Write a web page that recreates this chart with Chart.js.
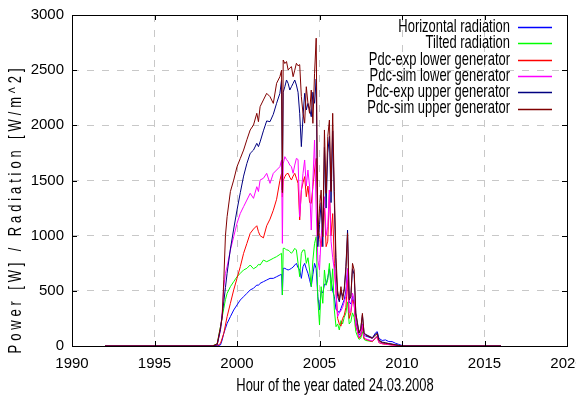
<!DOCTYPE html>
<html><head><meta charset="utf-8">
<script src="https://cdn.jsdelivr.net/npm/chart.js@4/dist/chart.umd.min.js"></script>
<style>html,body{margin:0;padding:0;background:#fff;overflow:hidden;}</style>
</head><body>
<canvas id="c" width="576" height="401" style="width:576px;height:401px;display:block"></canvas>
<script>
const hours = [1992, 1998.5, 1998.8, 1999.0, 1999.1, 1999.2, 1999.3, 1999.4, 1999.6, 1999.8,
 2000.0, 2000.2, 2000.4, 2000.6, 2000.8, 2001.0, 2001.2, 2001.3, 2001.4, 2001.6,
 2001.8, 2002.0, 2002.2, 2002.4, 2002.6, 2002.7, 2002.75, 2002.8, 2002.9, 2003.0,
 2003.1, 2003.2, 2003.3, 2003.4, 2003.5, 2003.6, 2003.7, 2003.8, 2003.9, 2004.0,
 2004.1, 2004.2, 2004.3, 2004.4, 2004.5, 2004.6, 2004.7, 2004.8, 2004.9, 2005.0,
 2005.1, 2005.2, 2005.3, 2005.4, 2005.5, 2005.6, 2005.7, 2005.8, 2005.9, 2006.0,
 2006.1, 2006.2, 2006.3, 2006.4, 2006.5, 2006.6, 2006.7, 2006.8, 2006.9, 2007.0,
 2007.1, 2007.2, 2007.3, 2007.4, 2007.5, 2007.6, 2007.7, 2007.8, 2008.0, 2008.2,
 2008.4, 2008.5, 2008.6, 2008.8, 2009.0, 2009.2, 2009.4, 2009.6, 2009.8, 2010.0,
 2010.3, 2016];

const horizontalRadiation = [0, 0, 0, 10, 54, 115, 160, 205, 266, 326,
 372, 417, 447, 477, 508, 523, 553, 550, 568, 583,
 598, 613, 613, 628, 643, 650, 462, 704, 704, 695,
 689, 695, 704, 715, 734, 749, 710, 689, 613, 719,
 749, 700, 659, 600, 538, 650, 749, 700, 447, 326,
 500, 480, 560, 560, 620, 700, 600, 500, 447, 330,
 320, 300, 340, 380, 420, 500, 700, 400, 380, 450,
 380, 220, 150, 100, 110, 180, 100, 90, 80, 70,
 120, 130, 70, 50, 55, 40, 40, 25, 15, 5,
 0, 0];

const tiltedRadiation = [0, 0, 20, 175, 260, 341, 420, 477, 538, 583,
 628, 659, 689, 704, 734, 700, 719, 740, 734, 779,
 764, 779, 795, 810, 830, 840, 462, 885, 885, 870,
 870, 855, 840, 860, 885, 870, 749, 628, 840, 870,
 870, 749, 800, 689, 538, 780, 930, 991, 417, 190,
 538, 387, 689, 550, 600, 749, 500, 700, 326, 175,
 200, 145, 230, 200, 260, 300, 400, 200, 220, 300,
 260, 130, 90, 60, 70, 130, 60, 50, 45, 40,
 80, 95, 40, 28, 22, 18, 14, 10, 6, 2,
 0, 0];

const pdcExpLower = [0, 0, 0, 24, 70, 115, 190, 266, 387, 508,
 613, 719, 840, 930, 1021, 1060, 1090, 1036, 1000, 980,
 1090, 1150, 1230, 1330, 1500, 1565, 1350, 1500, 1535, 1560,
 1565, 1530, 1504, 1540, 1565, 1520, 1474, 1142, 1414, 1480,
 1535, 1353, 1450, 1300, 1293, 1444, 1595, 1700, 1081, 1000,
 900, 1100, 1250, 900, 950, 1414, 1000, 1200, 750, 500,
 250, 200, 180, 250, 280, 350, 600, 250, 300, 420,
 380, 180, 130, 70, 90, 180, 70, 60, 50, 40,
 70, 80, 30, 20, 15, 12, 8, 5, 3, 0,
 0, 0];

const pdcSimLower = [0, 0, 10, 150, 296, 538, 659, 719, 870, 991,
 1112, 1202, 1263, 1323, 1384, 1338, 1444, 1400, 1504, 1520,
 1565, 1474, 1565, 1595, 1625, 1686, 930, 1650, 1716, 1690,
 1670, 1640, 1625, 1565, 1640, 1700, 1690, 1172, 1400, 1565,
 1686, 1450, 1595, 1444, 1051, 1500, 1867, 1233, 779, 689,
 1000, 1150, 1353, 1000, 1081, 1414, 950, 800, 689, 480,
 266, 300, 320, 350, 400, 450, 700, 300, 320, 480,
 420, 200, 140, 80, 100, 200, 80, 65, 55, 45,
 75, 90, 35, 22, 18, 14, 10, 6, 4, 0,
 0, 0];

const pdcExpUpper = [0, 0, 10, 150, 280, 400, 530, 659, 880, 1060,
 1232, 1390, 1540, 1655, 1746, 1776, 1837, 1807, 1850, 1950,
 2040, 2033, 2100, 2200, 2290, 2411, 1414, 2300, 2350, 2411,
 2380, 2320, 2350, 2380, 2411, 2365, 2300, 2109, 1807, 2078,
 2290, 2139, 2199, 2150, 2078, 2300, 2200, 2420, 900, 1100,
 1300, 900, 1800, 1250, 1750, 1900, 1300, 1950, 1300, 700,
 450, 400, 500, 450, 520, 720, 1051, 430, 450, 700,
 650, 300, 210, 120, 160, 280, 120, 105, 90, 75,
 110, 120, 55, 35, 30, 22, 18, 12, 6, 0,
 0, 0];

const pdcSimUpper = [0, 0, 20, 175, 250, 600, 1000, 1172, 1400, 1504,
 1625, 1700, 1776, 1870, 1958, 2003, 2109, 2033, 2169, 2230,
 2290, 2260, 2199, 2381, 2441, 2500, 1390, 2592, 2560, 2578,
 2502, 2520, 2532, 2441, 2500, 2562, 2540, 2550, 2260, 2109,
 2020, 2350, 2200, 2109, 2320, 2018, 2472, 2790, 1000, 1250,
 1414, 991, 1958, 1384, 1898, 2048, 1400, 2109, 1400, 800,
 500, 420, 538, 417, 508, 689, 1021, 417, 447, 749,
 689, 296, 200, 115, 150, 296, 115, 100, 85, 69,
 100, 110, 50, 30, 25, 20, 15, 10, 5, 0,
 0, 0];

const seriesLabels = ['Horizontal radiation', 'Tilted radiation', 'Pdc-exp lower generator',
  'Pdc-sim lower generator', 'Pdc-exp upper generator', 'Pdc-sim upper generator'];
const seriesValues = [horizontalRadiation, tiltedRadiation, pdcExpLower, pdcSimLower, pdcExpUpper, pdcSimUpper];
const seriesColors = ['#0000ff', '#00ff00', '#ff0000', '#ff00ff', '#000080', '#800000'];

const xTicks = [1990, 1995, 2000, 2005, 2010, 2015, 2020];
const yTicks = [0, 500, 1000, 1500, 2000, 2500, 3000];
const xTitle = 'Hour of the year dated 24.03.2008';
const yTitle = 'Power [W] / Radiation [W/m^2]';

const FONT = "'Liberation Sans', Arial, sans-serif";
const SX = 0.81, SY = 1.12;

const datasets = seriesLabels.map((lab, i) => ({
  label: lab,
  data: hours.map((h, k) => ({x: h, y: seriesValues[i][k]})),
  borderColor: seriesColors[i],
  backgroundColor: seriesColors[i],
  borderWidth: 1,
  pointRadius: 0,
  tension: 0,
  fill: false,
  order: seriesLabels.length - 1 - i
}));

function narrowText(ctx, text, x, y, align, spacing) {
  ctx.save();
  ctx.translate(x, y);
  ctx.scale(SX, SY);
  ctx.textAlign = align;
  ctx.textBaseline = 'middle';
  ctx.font = '16px ' + FONT;
  if (spacing && 'letterSpacing' in ctx) ctx.letterSpacing = spacing;
  ctx.fillText(text, 0, 0);
  ctx.restore();
}

const framePlugin = {
  id: 'frame',
  afterDraw(chart) {
    const {ctx, chartArea: a, scales} = chart;
    ctx.save();
    ctx.strokeStyle = '#000';
    ctx.lineWidth = 1;
    ctx.beginPath();
    xTicks.forEach(v => {
      const x = Math.round(scales.x.getPixelForValue(v)) + 0.5;
      ctx.moveTo(x, a.bottom); ctx.lineTo(x, a.bottom - 5);
      ctx.moveTo(x, a.top); ctx.lineTo(x, a.top + 5);
    });
    yTicks.forEach(v => {
      const y = Math.round(scales.y.getPixelForValue(v)) + 0.5;
      ctx.moveTo(a.left, y); ctx.lineTo(a.left + 5, y);
      ctx.moveTo(a.right, y); ctx.lineTo(a.right - 5, y);
    });
    ctx.stroke();
    ctx.strokeRect(Math.round(a.left) + 0.5, Math.round(a.top) + 0.5,
      Math.round(a.right - a.left), Math.round(a.bottom - a.top));

    // legend: text right-aligned, sample line to its right
    ctx.fillStyle = '#000';
    chart.data.datasets.forEach((ds, i) => {
      const y = 27 + i * 16.3;
      narrowText(ctx, ds.label, 510, y, 'right');
      ctx.strokeStyle = ds.borderColor;
      ctx.lineWidth = 1.5;
      ctx.beginPath();
      ctx.moveTo(518, Math.round(y) + 0.5);
      ctx.lineTo(552, Math.round(y) + 0.5);
      ctx.stroke();
    });

    // axis titles
    ctx.fillStyle = '#000';
    narrowText(ctx, xTitle, 335, 386, 'center');
    ctx.save();
    ctx.translate(16, 209);
    ctx.rotate(-Math.PI / 2);
    narrowText(ctx, yTitle, 0, 0, 'center', '4.8px');
    ctx.restore();
    ctx.restore();
  }
};

new Chart(document.getElementById('c'), {
  type: 'line',
  data: {datasets},
  options: {
    responsive: false,
    animation: false,
    devicePixelRatio: 1,
    layout: {padding: {left: 0, right: 9, top: 15, bottom: 0}},
    plugins: {legend: {display: false}, tooltip: {enabled: false}},
    scales: {
      x: {
        type: 'linear', min: 1990, max: 2020,
        afterBuildTicks: s => { s.ticks = xTicks.map(v => ({value: v})); },
        afterFit: s => { s.height = 55; s.paddingLeft = 0; s.paddingRight = 0; },
        ticks: {callback: v => String(v), color: '#000', font: {family: FONT, size: 15}, padding: 9, maxRotation: 0, autoSkip: false},
        grid: {color: '#c8c8c8', lineWidth: 1, drawTicks: false},
        border: {display: false, dash: [7, 8]}
      },
      y: {
        type: 'linear', min: 0, max: 3000,
        afterBuildTicks: s => { s.ticks = yTicks.map(v => ({value: v})); },
        afterFit: s => { s.width = 72; s.paddingTop = 0; s.paddingBottom = 0; },
        ticks: {callback: v => String(v), color: '#000', font: {family: FONT, size: 15}, padding: 8},
        grid: {color: '#c8c8c8', lineWidth: 1, drawTicks: false},
        border: {display: false, dash: [7, 8]}
      }
    }
  },
  plugins: [framePlugin]
});
</script>
</body></html>
